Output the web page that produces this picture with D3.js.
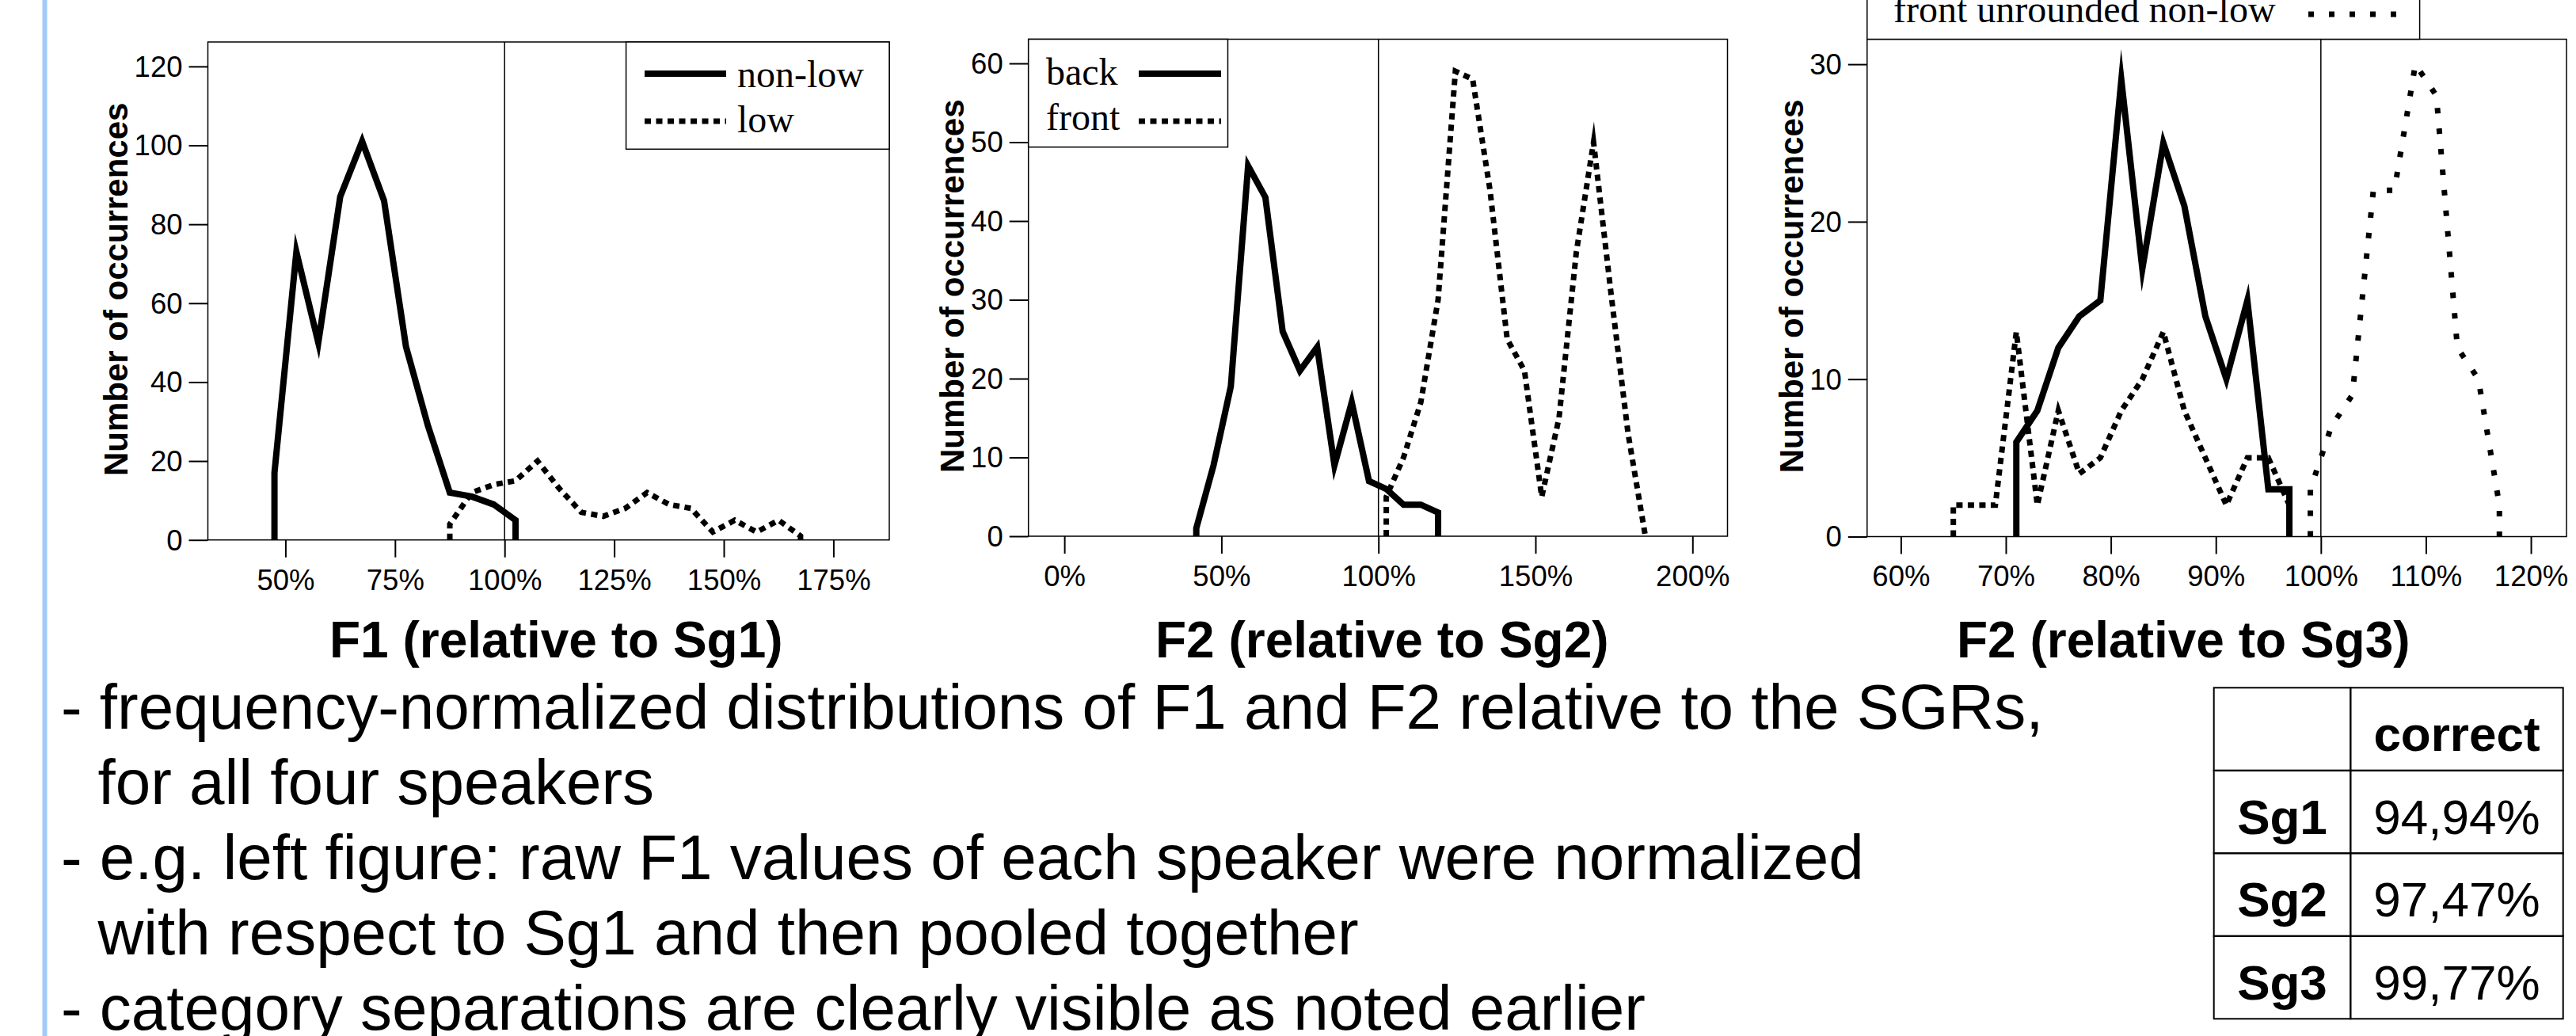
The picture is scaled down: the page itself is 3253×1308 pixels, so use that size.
<!DOCTYPE html>
<html>
<head>
<meta charset="utf-8">
<script src="https://cdn.jsdelivr.net/npm/d3@7/dist/d3.min.js"></script>
<style>
    body { margin:0; background:#fff; }
    svg { display:block; }
</style>
</head>
<body>
<div class="slide"></div>
<script>
// F1 relative to Sg1
var f1NonLowX = [47.5, 52.5, 57.5, 62.5, 67.5, 72.5, 77.5, 82.5, 87.5, 92.5, 97.5, 102.5];
var f1NonLow  = [17, 73, 50, 87, 101, 86, 49, 29, 12, 11, 9, 5];
var f1LowX = [87.5, 92.5, 97.5, 102.5, 107.5, 112.5, 117.5, 122.5, 127.5, 132.5, 137.5, 142.5, 147.5, 152.5, 157.5, 162.5, 167.5];
var f1Low  = [4, 12, 14, 15, 20, 13, 7, 6, 8, 12, 9, 8, 2, 5, 2, 5, 1];
var f1XTicks = [50, 75, 100, 125, 150, 175];
var f1YTicks = [0, 20, 40, 60, 80, 100, 120];

// F2 relative to Sg2
var f2BackX = [42, 47.5, 53, 58.5, 64, 69.5, 75, 80.5, 86, 91.5, 97, 102.5, 108, 113.5, 119];
var f2Back  = [1, 9, 19, 47, 43, 26, 21, 24, 9, 17, 7, 6, 4, 4, 3];
var f2FrontX = [102.5, 108, 113.5, 119, 124.5, 130, 135.5, 141, 146.5, 152, 157.5, 163, 168.5, 174, 179.5, 185];
var f2Front  = [5, 10, 17, 30, 59, 58, 44, 25, 21, 5, 15, 36, 50, 31, 13, 0];
var f2XTicks = [0, 50, 100, 150, 200];
var f2YTicks = [0, 10, 20, 30, 40, 50, 60];

// F2 relative to Sg3
var f3SolidX = [71, 73, 75, 77, 79, 81, 83, 85, 87, 89, 91, 93, 95, 97];
var f3Solid  = [6, 8, 12, 14, 15, 29, 17, 25, 21, 14, 10, 15, 3, 3];
var f3DotX = [65, 67, 69, 71, 73, 75, 77, 79, 81, 83, 85, 87, 89, 91, 93, 95, 97];
var f3Dot  = [2, 2, 2, 13, 2, 8, 4, 5, 8, 10, 13, 8, 5, 2, 5, 5, 2];
var f3UnrX = [99, 101, 103, 105, 107, 109, 111, 113, 115, 117];
var f3Unr  = [3, 7, 9, 22, 22, 30, 28, 12, 10, 2];
var f3XTicks = [60, 70, 80, 90, 100, 110, 120];
var f3YTicks = [0, 10, 20, 30];

var notes = [
    "- frequency-normalized distributions of F1 and F2 relative to the SGRs,",
    "for all four speakers",
    "- e.g. left figure: raw F1 values of each speaker were normalized",
    "with respect to Sg1 and then pooled together",
    "- category separations are clearly visible as noted earlier"
];
var tableHead = ["", "correct"];
var tableRows = ["Sg1", "Sg2", "Sg3"];
var tableVals = ["94,94%", "97,47%", "99,77%"];

var SANS = '"Liberation Sans", Arial, Helvetica, sans-serif';
var SERIF = '"Liberation Serif", "Times New Roman", serif';
var DASH_DENSE = '8,6.5';
var DASH_SPARSE = '7,19';

var W = 3253, H = 1308;
var svg = d3.select('.slide').append('svg')
    .attr('width', W)
    .attr('height', H);

svg.append('rect')
    .attr('x', 53.5).attr('y', 0)
    .attr('width', 6).attr('height', H)
    .attr('fill', '#a3cbf5');

function withZeros(xs, vs) {
    var pts = [[xs[0], 0]];
    for (var i = 0; i < xs.length; i++) pts.push([xs[i], vs[i]]);
    pts.push([xs[xs.length - 1], 0]);
    return pts;
}

function drawPanel(p) {
    var x = d3.scaleLinear().domain(p.xDomain).range([p.left, p.right]);
    var y = d3.scaleLinear().domain([0, p.yMax]).range([p.bottom, p.top]);
    var g = svg.append('g');

    var xa = g.append('g')
        .attr('transform', 'translate(0,' + p.bottom + ')')
        .call(d3.axisBottom(x).tickValues(p.xTicks).tickSize(22).tickPadding(15)
            .tickFormat(function(d) { return d + '%'; }));
    var ya = g.append('g')
        .attr('transform', 'translate(' + p.left + ',0)')
        .call(d3.axisLeft(y).tickValues(p.yTicks).tickSize(24).tickPadding(8));
    [xa, ya].forEach(function(a) {
        a.select('.domain').remove();
        a.selectAll('line').attr('stroke', '#000').attr('stroke-width', 2);
        a.selectAll('text').style('font-family', SANS).style('font-size', '36.5px').attr('fill', '#000');
    });
    ya.selectAll('text').attr('dy', '0.34em');

    // 100% reference line
    g.append('line')
        .attr('x1', x(100)).attr('x2', x(100))
        .attr('y1', p.top).attr('y2', p.bottom)
        .attr('stroke', '#000').attr('stroke-width', 1.5);

    var line = d3.line()
        .x(function(d) { return x(d[0]); })
        .y(function(d) { return y(d[1]); });

    p.series.forEach(function(s) {
        g.append('path')
            .attr('d', line(withZeros(s.xs, s.vs)))
            .attr('fill', 'none')
            .attr('stroke', '#000')
            .attr('stroke-width', s.dash ? 7 : 8)
            .attr('stroke-dasharray', s.dash)
            .attr('stroke-linejoin', 'miter')
            .attr('stroke-miterlimit', 12);
    });

    g.append('rect')
        .attr('x', p.left).attr('y', p.top)
        .attr('width', p.right - p.left).attr('height', p.bottom - p.top)
        .attr('fill', 'none').attr('stroke', '#000').attr('stroke-width', 1.5);

    // legend
    var L = p.legend;
    g.append('rect')
        .attr('x', L.x0).attr('y', L.y0)
        .attr('width', L.x1 - L.x0).attr('height', L.y1 - L.y0)
        .attr('fill', '#fff').attr('stroke', '#000').attr('stroke-width', 1.5);
    L.items.forEach(function(it, i) {
        g.append('line')
            .attr('x1', L.sx0).attr('x2', L.sx1)
            .attr('y1', L.sy + i * 60).attr('y2', L.sy + i * 60)
            .attr('stroke', '#000')
            .attr('stroke-width', it.dash ? 7 : 8)
            .attr('stroke-dasharray', it.dash);
        g.append('text')
            .attr('x', L.tx).attr('y', L.ty + i * 57)
            .style('font-family', SERIF).style('font-size', '48px')
            .text(it.label);
    });

    g.append('text')
        .attr('x', p.titleX).attr('y', 830)
        .style('font-family', SANS).style('font-size', '64px').style('font-weight', 'bold')
        .text(p.title);

    g.append('text')
        .attr('transform', 'translate(' + p.yTitleX + ',' + ((p.top + p.bottom) / 2 - 2) + ') rotate(-90)')
        .attr('text-anchor', 'middle')
        .style('font-family', SANS).style('font-size', '42px').style('font-weight', 'bold')
        .text('Number of occurrences');
}

drawPanel({
    left: 262.5, right: 1123, top: 53, bottom: 681.7,
    xDomain: [32.31, 187.75], yMax: 126.2,
    xTicks: f1XTicks, yTicks: f1YTicks,
    series: [
        {xs: f1NonLowX, vs: f1NonLow, dash: null},
        {xs: f1LowX, vs: f1Low, dash: DASH_DENSE}
    ],
    legend: {x0: 790.6, x1: 1123, y0: 53, y1: 188.3, sx0: 814, sx1: 917, sy: 93, tx: 931, ty: 110,
        items: [{label: 'non-low', dash: null}, {label: 'low', dash: DASH_DENSE}]},
    title: 'F1 (relative to Sg1)', titleX: 416, yTitleX: 161
});

drawPanel({
    left: 1298.7, right: 2181.5, top: 49.5, bottom: 677,
    xDomain: [-11.45, 211.15], yMax: 63.07,
    xTicks: f2XTicks, yTicks: f2YTicks,
    series: [
        {xs: f2BackX, vs: f2Back, dash: null},
        {xs: f2FrontX, vs: f2Front, dash: DASH_DENSE}
    ],
    legend: {x0: 1298.7, x1: 1550.5, y0: 49.5, y1: 185.7, sx0: 1438, sx1: 1542, sy: 93, tx: 1321, ty: 107,
        items: [{label: 'back', dash: null}, {label: 'front', dash: DASH_DENSE}]},
    title: 'F2 (relative to Sg2)', titleX: 1459, yTitleX: 1217
});

drawPanel({
    left: 2357.8, right: 3241, top: 49.5, bottom: 677.5,
    xDomain: [56.79, 123.39], yMax: 31.59,
    xTicks: f3XTicks, yTicks: f3YTicks,
    series: [
        {xs: f3SolidX, vs: f3Solid, dash: null},
        {xs: f3DotX, vs: f3Dot, dash: DASH_DENSE},
        {xs: f3UnrX, vs: f3Unr, dash: DASH_SPARSE}
    ],
    legend: {x0: 2357.8, x1: 3055.6, y0: -150, y1: 49.5, sx0: 2915, sx1: 3030, sy: 18, tx: 2391, ty: 28,
        items: [{label: 'front unrounded non-low', dash: DASH_SPARSE}]},
    title: 'F2 (relative to Sg3)', titleX: 2471, yTitleX: 2277
});

// bullet notes
svg.append('g').selectAll('text')
    .data(notes)
    .enter().append('text')
    .attr('x', function(d) { return d.charAt(0) == '-' ? 77 : 123.5; })
    .attr('y', function(d, i) { return 920 + i * 95; })
    .style('font-family', SANS).style('font-size', '80px')
    .attr('fill', '#000')
    .text(function(d) { return d; });

// result table
var tx = [2795.7, 2968.3, 3236.7];
var rowH = 104.5, ty0 = 868.3;
var tg = svg.append('g');
var cells = [tableHead].concat(tableRows.map(function(r, i) { return [r, tableVals[i]]; }));
cells.forEach(function(row, r) {
    row.forEach(function(c, k) {
        tg.append('rect')
            .attr('x', tx[k]).attr('y', ty0 + r * rowH)
            .attr('width', tx[k + 1] - tx[k]).attr('height', rowH)
            .attr('fill', 'none').attr('stroke', '#000').attr('stroke-width', 2);
        tg.append('text')
            .attr('x', (tx[k] + tx[k + 1]) / 2).attr('y', ty0 + r * rowH + 80)
            .attr('text-anchor', 'middle')
            .style('font-family', SANS).style('font-size', '62px')
            .style('font-weight', (r == 0 || k == 0) ? 'bold' : 'normal')
            .text(c);
    });
});
</script>
</body>
</html>
